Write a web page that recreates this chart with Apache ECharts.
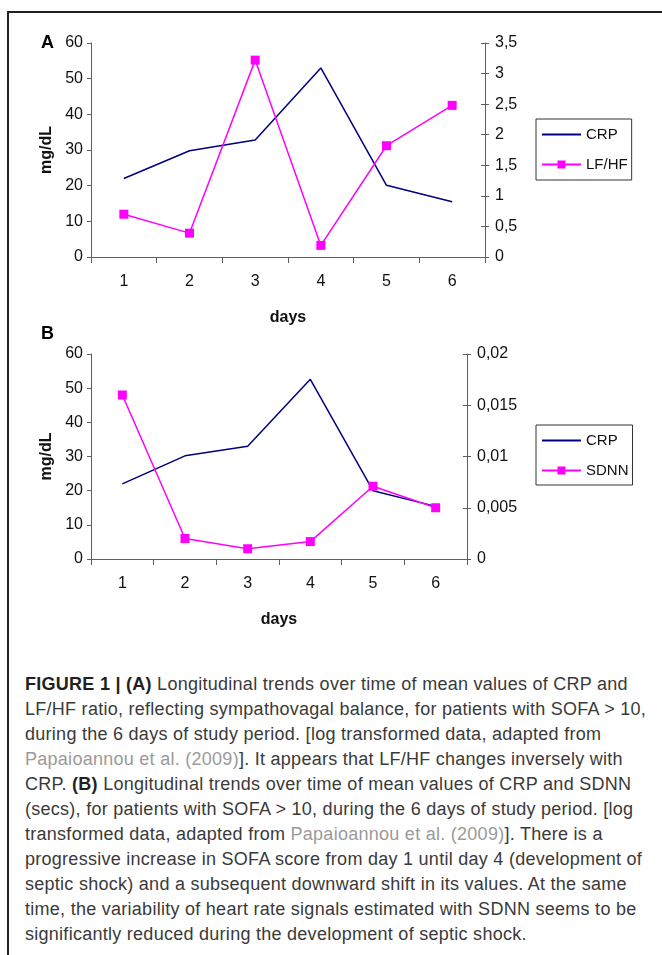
<!DOCTYPE html>
<html>
<head>
<meta charset="utf-8">
<script src="https://cdn.jsdelivr.net/npm/echarts@6/dist/echarts.min.js"></script>
<style>
  html, body { margin:0; padding:0; background:#fff; }
  body { width:662px; height:955px; position:relative; overflow:hidden; }
  #c { position:absolute; left:0; top:0; width:662px; height:660px; }
  .frameTop { position:absolute; left:7px; top:11px; width:655px; height:2px; background:#231f20; }
  .frameLeft { position:absolute; left:7px; top:11px; width:2px; height:944px; background:#231f20; }
  #cap { position:absolute; left:25px; top:672px; width:636px; font-family:'Liberation Sans', Arial, sans-serif;
         font-size:18px; letter-spacing:0.27px; line-height:25px; color:#3a3a3a; white-space:nowrap; }
  #cap b { color:#231f20; }
  #cap .ref { color:#9a9a9a; }
</style>
</head>
<body>
<div class="frameTop"></div>
<div class="frameLeft"></div>
<div id="c"></div>
<div id="cap"><b>FIGURE 1 | (A)</b> Longitudinal trends over time of mean values of CRP and<br>LF/HF ratio, reflecting sympathovagal balance, for patients with SOFA &gt; 10,<br>during the 6 days of study period. [log transformed data, adapted from<br><span class="ref">Papaioannou et al. (2009)</span>]. It appears that LF/HF changes inversely with<br>CRP. <b>(B)</b> Longitudinal trends over time of mean values of CRP and SDNN<br>(secs), for patients with SOFA &gt; 10, during the 6 days of study period. [log<br>transformed data, adapted from <span class="ref">Papaioannou et al. (2009)</span>]. There is a<br>progressive increase in SOFA score from day 1 until day 4 (development of<br>septic shock) and a subsequent downward shift in its values. At the same<br>time, the variability of heart rate signals estimated with SDNN seems to be<br>significantly reduced during the development of septic shock.</div>
<script>
// ---- data ----
const days = ['1', '2', '3', '4', '5', '6'];
const crpA = [22, 29.8, 32.8, 53, 20.1, 15.5];
const lfhf = [0.70, 0.39, 3.22, 0.19, 1.82, 2.48];
const crpB = [22, 30.2, 33, 52.6, 20, 15.4];
const sdnn = [0.016, 0.002, 0.001, 0.0017, 0.0071, 0.005];
const leftTicks = { min: 0, max: 60, interval: 10 };
const rightTicksA = { min: 0, max: 3.5, interval: 0.5 };
const rightTicksB = { min: 0, max: 0.02, interval: 0.005 };

const FONT = "'Liberation Sans', Arial, sans-serif";
const AX = '#5f5f5f';
const TXT = '#111';
const NAVY = '#000080';
const MAG = '#ff00ff';

function comma(v) { return String(+(+v).toFixed(4)).replace('.', ','); }

function xAx(gi) {
  return {
    gridIndex: gi, type: 'category', data: days, boundaryGap: true,
    axisLine: { show: true, lineStyle: { color: AX, width: 1 } },
    axisTick: { show: true, length: 6, lineStyle: { color: AX } },
    axisLabel: { color: TXT, fontSize: 16, margin: 17, fontFamily: FONT },
    splitLine: { show: false },
    name: 'days', nameLocation: 'middle', nameGap: 53,
    nameTextStyle: { fontWeight: 'bold', fontSize: 16, color: TXT, fontFamily: FONT }
  };
}
function leftAx(gi) {
  return {
    gridIndex: gi, type: 'value', position: 'left', min: leftTicks.min, max: leftTicks.max, interval: leftTicks.interval,
    axisLine: { show: true, lineStyle: { color: AX } },
    axisTick: { show: true, length: 4, lineStyle: { color: AX } },
    axisLabel: { color: TXT, fontSize: 16, margin: 8, fontFamily: FONT },
    splitLine: { show: false },
    name: 'mg/dL', nameLocation: 'middle', nameRotate: 90, nameGap: 35,
    nameTextStyle: { fontWeight: 'bold', fontSize: 16, color: TXT, fontFamily: FONT }
  };
}
function rightAx(gi, t) {
  return {
    gridIndex: gi, type: 'value', position: 'right', min: t.min, max: t.max, interval: t.interval,
    axisLine: { show: true, onZero: false, lineStyle: { color: AX } },
    axisTick: { show: true, length: 4, lineStyle: { color: AX } },
    axisLabel: { color: TXT, fontSize: 16, margin: 10, fontFamily: FONT, formatter: comma },
    splitLine: { show: false }
  };
}
function rightInner(gi, t) {
  return {
    gridIndex: gi, type: 'value', position: 'right', min: t.min, max: t.max, interval: t.interval,
    axisLine: { show: false },
    axisTick: { show: true, inside: true, length: 4, lineStyle: { color: AX } },
    axisLabel: { show: false },
    splitLine: { show: false }
  };
}
function legendAt(top, names, pad) {
  return {
    orient: 'vertical', left: 536, top: top,
    data: [{ name: names[0], itemStyle: { opacity: 0 } }, { name: names[1] }],
    itemWidth: 39, itemHeight: 10, itemGap: 15,
    padding: pad, borderColor: '#333', borderWidth: 1,
    textStyle: { fontSize: 15, color: TXT, fontFamily: FONT },
    selectedMode: false
  };
}

const chart = echarts.init(document.getElementById('c'));
chart.setOption({
  animation: false,
  backgroundColor: 'transparent',
  textStyle: { fontFamily: FONT },
  grid: [
    { left: 91, top: 43, width: 394, height: 214 },
    { left: 91, top: 354, width: 376, height: 205 }
  ],
  xAxis: [xAx(0), xAx(1)],
  yAxis: [leftAx(0), rightAx(0, rightTicksA), rightInner(0, rightTicksA),
          leftAx(1), rightAx(1, rightTicksB), rightInner(1, rightTicksB)],
  legend: [legendAt(119, ['CRP', 'LF/HF'], [8, 4, 8, 5]), legendAt(425, ['CRP', 'SDNN'], [8, 4, 7, 5])],
  graphic: [
    { type: 'text', left: 41, top: 34, style: { text: 'A', font: 'bold 18px ' + FONT, fill: '#000' } },
    { type: 'text', left: 41, top: 325, style: { text: 'B', font: 'bold 18px ' + FONT, fill: '#000' } }
  ],
  series: [
    { name: 'CRP', type: 'line', xAxisIndex: 0, yAxisIndex: 0, data: crpA, symbol: 'none',
      lineStyle: { color: NAVY, width: 1.5 }, itemStyle: { color: NAVY } },
    { name: 'LF/HF', type: 'line', xAxisIndex: 0, yAxisIndex: 1, data: lfhf, symbol: 'rect', symbolSize: 9,
      lineStyle: { color: MAG, width: 1.5 }, itemStyle: { color: MAG } },
    { name: 'CRP', type: 'line', xAxisIndex: 1, yAxisIndex: 3, data: crpB, symbol: 'none',
      lineStyle: { color: NAVY, width: 1.5 }, itemStyle: { color: NAVY } },
    { name: 'SDNN', type: 'line', xAxisIndex: 1, yAxisIndex: 4, data: sdnn, symbol: 'rect', symbolSize: 9,
      lineStyle: { color: MAG, width: 1.5 }, itemStyle: { color: MAG } }
  ]
});
</script>
</body>
</html>
